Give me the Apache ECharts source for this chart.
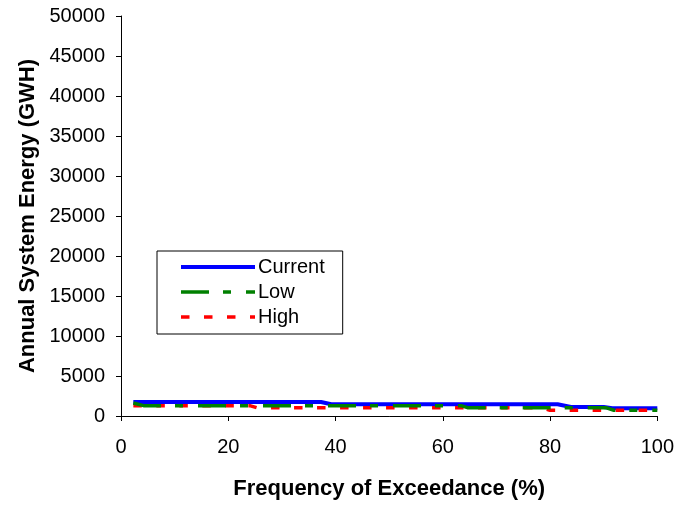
<!DOCTYPE html>
<html>
<head>
<meta charset="utf-8">
<script src="https://cdn.jsdelivr.net/npm/echarts@6/dist/echarts.min.js"></script>
<style>
  html, body { margin: 0; padding: 0; background: #fff; }
  #chart { width: 677px; height: 505px; }
</style>
</head>
<body>
<div id="chart"></div>
<script>
// Exceedance curves of annual system energy (GWH) by scenario
const currentPct = [2.3, 37.3, 39.2, 81.4, 83.9, 90.0, 91.6, 100];
const currentGwh = [1750, 1750, 1470, 1470, 1130, 1130, 965, 965];

const lowPct = [2.3, 4.2, 63.4, 64.6, 90.4, 91.9, 100];
const lowGwh = [1620, 1290, 1290, 1040, 1040, 715, 715];

const highPct = [2.3, 24.0, 25.3, 78.5, 80.0, 100];
const highGwh = [1290, 1290, 1040, 1040, 715, 715];

const seriesNames = ['Current', 'Low', 'High'];
const xTitle = 'Frequency of Exceedance (%)';
const yTitle = 'Annual System Energy (GWH)';

const pairs = (xs, ys) => xs.map((x, i) => [x, ys[i]]);
const FONT = "Arial, 'Liberation Sans', sans-serif";

// Stroke styles shared by the plotted lines and their legend samples
const styles = {
  Current: { color: '#0000ff', width: 4, type: 'solid' },
  Low: { color: '#008000', width: 3.5, type: [28, 14, 8, 15] },
  High: { color: '#ff0000', width: 3.5, type: [8.5, 14.5] }
};

const chart = echarts.init(document.getElementById('chart'), null, { renderer: 'canvas' });
chart.setOption({
  backgroundColor: '#ffffff',
  animation: false,
  textStyle: { fontFamily: FONT, color: '#000' },
  grid: { left: 121, right: 18, top: 16, bottom: 89, containLabel: false },
  legend: {
    orient: 'vertical',
    left: 157,
    top: 251,
    padding: [6, 18, 7, 22],
    itemGap: 5,
    itemWidth: 74,
    itemHeight: 20,
    backgroundColor: '#fff',
    borderColor: '#000',
    borderWidth: 1,
    borderRadius: 0,
    itemStyle: { opacity: 0 },
    textStyle: { fontFamily: FONT, fontSize: 20, color: '#000', padding: [0, 0, 0, -2] },
    data: seriesNames.map(n => ({
      name: n,
      itemStyle: { opacity: 0 },
      lineStyle: { color: styles[n].color, width: styles[n].width, type: styles[n].type, cap: 'butt', opacity: 1 }
    }))
  },
  xAxis: {
    type: 'value',
    min: 0, max: 100, interval: 20,
    name: xTitle,
    nameLocation: 'middle',
    nameGap: 62,
    nameTextStyle: { fontFamily: FONT, fontSize: 22, fontWeight: 'bold', color: '#000' },
    axisLine: { show: true, lineStyle: { color: '#000', width: 1 } },
    axisTick: { show: true, inside: false, length: 5, lineStyle: { color: '#000' } },
    axisLabel: { margin: 21, fontFamily: FONT, fontSize: 20, color: '#000' },
    splitLine: { show: false }
  },
  yAxis: {
    type: 'value',
    min: 0, max: 50000, interval: 5000,
    name: yTitle,
    nameLocation: 'middle',
    nameRotate: 90,
    nameGap: 80,
    nameTextStyle: { fontFamily: FONT, fontSize: 22, fontWeight: 'bold', color: '#000' },
    axisLine: { show: true, lineStyle: { color: '#000', width: 1 } },
    axisTick: { show: true, inside: false, length: 5, lineStyle: { color: '#000' } },
    axisLabel: { margin: 16, fontFamily: FONT, fontSize: 20, color: '#000', formatter: v => String(v) },
    splitLine: { show: false }
  },
  series: [
    {
      name: 'High', type: 'line', data: pairs(highPct, highGwh),
      symbol: 'none', z: 2,
      color: styles.High.color,
      lineStyle: Object.assign({ cap: 'butt' }, styles.High)
    },
    {
      name: 'Low', type: 'line', data: pairs(lowPct, lowGwh),
      symbol: 'none', z: 3,
      color: styles.Low.color,
      lineStyle: Object.assign({ cap: 'butt' }, styles.Low)
    },
    {
      name: 'Current', type: 'line', data: pairs(currentPct, currentGwh),
      symbol: 'none', z: 1,
      color: styles.Current.color,
      lineStyle: Object.assign({ cap: 'butt', join: 'round' }, styles.Current)
    }
  ]
});
</script>
</body>
</html>
